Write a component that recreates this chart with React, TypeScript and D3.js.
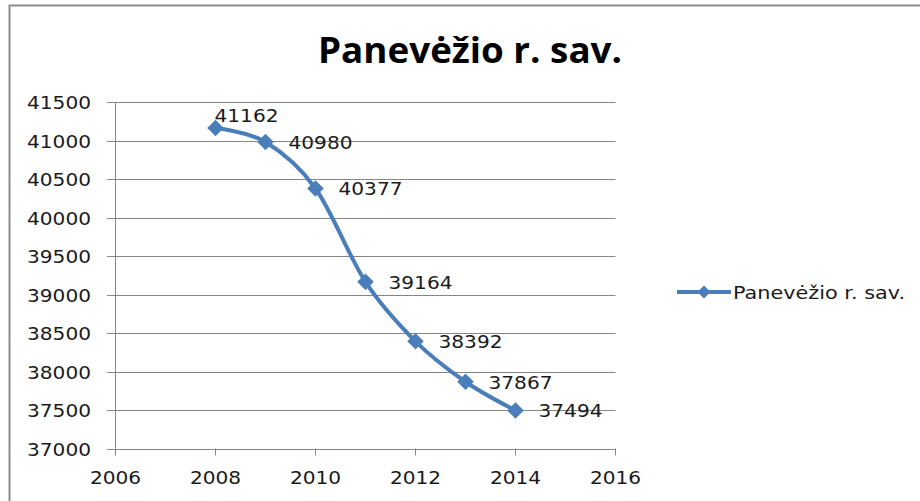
import React, { useEffect, useRef } from 'react';
import * as d3 from 'd3';

const title = 'Panevėžio r. sav.';
const seriesName = 'Panevėžio r. sav.';
const years = [2008, 2009, 2010, 2011, 2012, 2013, 2014];
const population = [41162, 40980, 40377, 39164, 38392, 37867, 37494];
const xTicks = [2006, 2008, 2010, 2012, 2014, 2016];
const yTicks = [37000, 37500, 38000, 38500, 39000, 39500, 40000, 40500, 41000, 41500];

export default function App() {
    const ref = useRef<SVGSVGElement>(null);

    useEffect(() => {
        const svg = d3.select(ref.current);
        svg.selectAll('*').remove();

        const blue = '#4a7ebb';
        const grid = '#868686';
        const font = 'DejaVu Sans, sans-serif';
        const digitW = 12.8;

        // chart frame
        svg.append('rect')
            .attr('x', 9.5).attr('y', 5.5)
            .attr('width', 930).attr('height', 520)
            .attr('fill', '#fff')
            .attr('stroke', '#8c8c8c')
            .attr('stroke-width', 2);

        svg.append('text')
            .attr('x', 470).attr('y', 63)
            .attr('text-anchor', 'middle')
            .attr('font-family', 'Open Sans, sans-serif')
            .attr('font-weight', 'bold')
            .attr('font-size', 35)
            .attr('textLength', 304)
            .attr('lengthAdjust', 'spacingAndGlyphs')
            .text(title);

        const x = d3.scaleLinear().domain([2006, 2016]).range([115.5, 615.5]);
        const y = d3.scaleLinear().domain([37000, 41500]).range([448.5, 102]);

        // gridlines
        svg.append('g').selectAll('line')
            .data(yTicks)
            .enter().append('line')
            .attr('x1', 107).attr('x2', x(2016))
            .attr('y1', d => Math.round(y(d)) + 0.5)
            .attr('y2', d => Math.round(y(d)) + 0.5)
            .attr('stroke', grid);

        // y axis
        svg.append('line')
            .attr('x1', x(2006)).attr('x2', x(2006))
            .attr('y1', y(41500)).attr('y2', y(37000))
            .attr('stroke', grid);

        svg.append('g').selectAll('text')
            .data(yTicks)
            .enter().append('text')
            .attr('x', 91)
            .attr('y', d => y(d) + 7)
            .attr('text-anchor', 'end')
            .attr('font-family', font)
            .attr('font-size', 18.5)
            .attr('fill', '#1a1a1a')
            .attr('textLength', d => String(d).length * digitW)
            .attr('lengthAdjust', 'spacingAndGlyphs')
            .text(d => d);

        // x axis ticks
        svg.append('g').selectAll('line')
            .data(xTicks)
            .enter().append('line')
            .attr('x1', d => x(d)).attr('x2', d => x(d))
            .attr('y1', y(37000)).attr('y2', y(37000) + 7)
            .attr('stroke', grid);

        svg.append('g').selectAll('text')
            .data(xTicks)
            .enter().append('text')
            .attr('x', d => x(d))
            .attr('y', 484)
            .attr('text-anchor', 'middle')
            .attr('font-family', font)
            .attr('font-size', 18.5)
            .attr('fill', '#1a1a1a')
            .attr('textLength', d => String(d).length * digitW)
            .attr('lengthAdjust', 'spacingAndGlyphs')
            .text(d => d);

        const points = years.map((yr, i) => [x(yr), y(population[i])] as [number, number]);

        svg.append('path')
            .datum(points)
            .attr('fill', 'none')
            .attr('stroke', blue)
            .attr('stroke-width', 4)
            .attr('d', d3.line().curve(d3.curveCatmullRom.alpha(0))(points));

        const diamond = d3.symbol().type(d3.symbolDiamond2).size(175);

        svg.append('g').selectAll('path')
            .data(points)
            .enter().append('path')
            .attr('transform', d => 'translate(' + d[0] + ',' + d[1] + ')')
            .attr('d', diamond())
            .attr('fill', blue);

        // data labels, the first one sits above the point
        svg.append('g').selectAll('text')
            .data(points)
            .enter().append('text')
            .attr('x', (d, i) => i == 0 ? d[0] - 1 : d[0] + 23)
            .attr('y', (d, i) => i == 0 ? d[1] - 6 : d[1] + 7)
            .attr('font-family', font)
            .attr('font-size', 18.5)
            .attr('fill', '#1a1a1a')
            .attr('textLength', (d, i) => String(population[i]).length * digitW)
            .attr('lengthAdjust', 'spacingAndGlyphs')
            .text((d, i) => population[i]);

        // legend
        const legend = svg.append('g').attr('transform', 'translate(677,292)');
        legend.append('line')
            .attr('x1', 0).attr('x2', 54)
            .attr('stroke', blue)
            .attr('stroke-width', 4);
        legend.append('path')
            .attr('transform', 'translate(27,0)')
            .attr('d', d3.symbol().type(d3.symbolDiamond2).size(110)())
            .attr('fill', blue);
        legend.append('text')
            .attr('x', 56).attr('y', 7)
            .attr('font-family', font)
            .attr('font-size', 18.5)
            .attr('fill', '#1a1a1a')
            .attr('textLength', 172)
            .attr('lengthAdjust', 'spacingAndGlyphs')
            .text(seriesName);
    }, []);

    return (
        <svg ref={ref} width={920} height={501} style={{ position: 'absolute', left: 0, top: 0, background: '#fff' }} />
    );
}
